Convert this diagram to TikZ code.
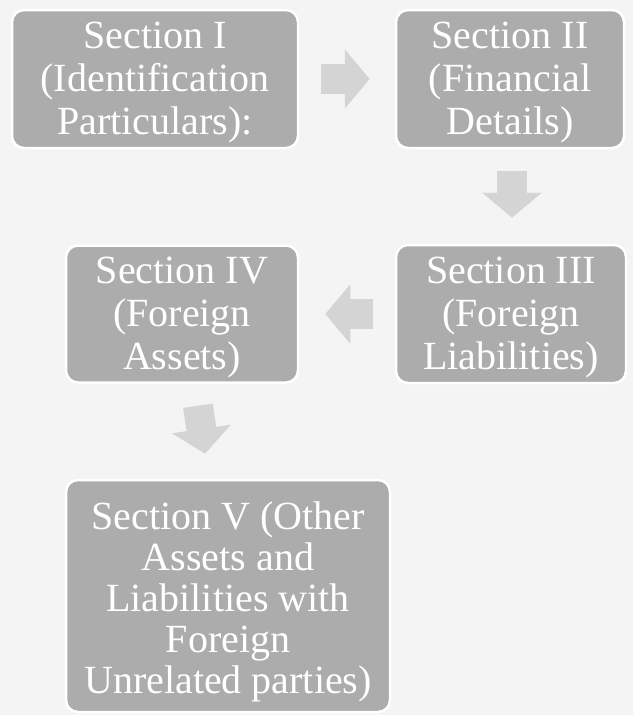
\documentclass[tikz,border=0pt]{standalone}
\usepackage{fontspec}
\setmainfont{Liberation Serif}
\usepackage{xcolor}
\usetikzlibrary{arrows.meta,calc}
\definecolor{bggray}{HTML}{F4F4F4}
\definecolor{boxgray}{HTML}{ACACAC}
\definecolor{arrgray}{HTML}{D4D4D4}
\tikzset{
  sec/.style={rectangle,rounded corners=12pt,fill=boxgray,draw=white,line width=2.5pt,text=white,align=center,inner sep=0pt,font=\rmfamily\fontsize{40}{43}\selectfont},
  blk/.style={draw=arrgray,line width=30pt,-{Triangle[length=25pt,width=58pt,fill=arrgray,color=arrgray]}}
}
\newcommand{\toprl}[1]{\rule{0pt}{#1}}

\begin{document}
\begin{tikzpicture}[x=1pt,y=-1pt]
\fill[bggray] (0,0) rectangle (633,715);
\node[sec,minimum width=286pt,minimum height=138pt] (secI) at (155,79) {\toprl{33pt}Section I\\(Identification\\Particulars):};
\node[sec,minimum width=228pt,minimum height=138pt] (secII) at (510,79) {\toprl{33pt}Section II\\(Financial\\Details)};
\node[sec,minimum width=230pt,minimum height=138pt] (secIII) at (511,314) {\toprl{33pt}Section III\\(Foreign\\Liabilities)};
\node[sec,minimum width=232pt,minimum height=137pt] (secIV) at (182,314) {\toprl{33pt}Section IV\\(Foreign\\Assets)};
\node[sec,minimum width=324pt,minimum height=232pt,font=\rmfamily\fontsize{40}{41}\selectfont] (secV) at (228,596) {\toprl{39pt}Section V (Other\\Assets and\\Liabilities with\\Foreign\\Unrelated parties)};
\draw[blk] ($(secI.east)+(22,0)$) -- ($(secII.west)+(-25,0)$);
\draw[blk] ($(secII.south)+(2,22)$) -- ($(secIII.north)+(1,-26)$);
\draw[blk] ($(secIII.west)+(-22,0)$) -- ($(secIV.east)+(26,0)$);
\draw[blk] ($(secIV.south)+(16,22)$) -- ($(secV.north)+(-23,-25)$);
\end{tikzpicture}
\end{document}
